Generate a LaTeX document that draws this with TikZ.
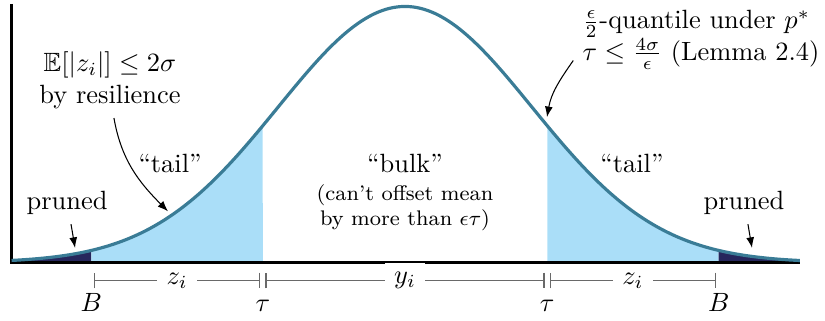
\documentclass[tikz,border=0pt]{standalone}
\usepackage{amsmath,amssymb}
\usetikzlibrary{arrows.meta,positioning}
\definecolor{curveteal}{RGB}{58,124,150}
\definecolor{tailblue}{RGB}{170,222,248}
\definecolor{prunednavy}{RGB}{38,38,92}
\definecolor{spangray}{RGB}{105,105,105}
\tikzset{
  density/.style={line width=1.2pt, draw=curveteal},
  axisline/.style={line width=1.1pt, draw=black},
  pointer/.style={-{Latex[length=4pt,width=3pt]}, thin, draw=black},
  span/.style={{Bar[width=6pt]}-{Bar[width=6pt]}, semithick, draw=spangray, shorten <=0.9pt, shorten >=0.9pt},
  spanlabel/.style={fill=white, inner sep=3.5pt},
  endlabel/.style={anchor=base},
  note/.style={align=center},
  smallnote/.style={align=center, font=\footnotesize}
}
\begin{document}
\begin{tikzpicture}[x=1.69cm, y=3.407cm, declare function={gauss(\t)=exp(-0.5*(\t)*(\t));}]
\useasboundingbox (-3.189,-0.2246) rectangle (3.307,1.0254);
% shaded regions under the density
\fill[prunednavy] (-3.098,0) -- plot[domain=-3.098:-2.47, samples=20] (\x,{gauss(\x)}) -- (-2.47,0) -- cycle;
\fill[tailblue] (-2.47,0) -- plot[domain=-2.47:-1.12, samples=40] (\x,{gauss(\x)}) -- (-1.12,0) -- cycle;
\fill[tailblue] (1.12,0) -- plot[domain=1.12:2.47, samples=40] (\x,{gauss(\x)}) -- (2.47,0) -- cycle;
\fill[prunednavy] (2.47,0) -- plot[domain=2.47:3.11, samples=20] (\x,{gauss(\x)}) -- (3.11,0) -- cycle;
% axes and curve
\draw[axisline] (-3.098,1.010) -- (-3.098,0) -- (3.11,0);
\draw[density] plot[domain=-3.098:3.11, samples=150, smooth] (\x,{gauss(\x)});
% spans below the axis
\coordinate (bl) at (-2.47,-0.07);
\coordinate (tl) at (-1.12,-0.07);
\coordinate (tr) at (1.12,-0.07);
\coordinate (br) at (2.47,-0.07);
\draw[span] (bl) -- node[spanlabel] {$z_i$} (tl);
\draw[span] (tl) -- node[spanlabel] {$y_i$} (tr);
\draw[span] (tr) -- node[spanlabel] {$z_i$} (br);
\node[endlabel] (Bl) at (-2.47,-0.193) {$B$};
\node[endlabel] (taul) at (-1.12,-0.193) {$\tau$};
\node[endlabel] (taur) at (1.12,-0.193) {$\tau$};
\node[endlabel] (Br) at (2.47,-0.193) {$B$};
% labels
\node[note] (resil) at (-2.323,0.712) {$\mathbb{E}[|z_i|] \le 2\sigma$\\by resilience};
\node[note] (taill) at (-1.85,0.388) {``tail''};
\node[note] (tailr) at (1.787,0.388) {``tail''};
\node[note] (prunl) at (-2.661,0.232) {pruned};
\node[note] (prunr) at (2.669,0.232) {pruned};
\node[note] (bulk) at (0,0.386) {``bulk''};
\node[smallnote] (bulknote) at (0,0.214) {(can't offset mean\\by more than $\epsilon\tau$)};
\node[note, align=left] (quant) at (2.331,0.869) {$\frac{\epsilon}{2}$-quantile under $p^*$\\$\tau \le \frac{4\sigma}{\epsilon}$ (Lemma 2.4)};
% pointers
\coordinate (resilend) at (-1.866,0.20);
\coordinate (quantend) at (1.118,0.568);
\coordinate (prunlend) at (-2.598,0.057);
\coordinate (prunrend) at (2.732,0.057);
\draw[pointer] ([xshift=1.5pt]resil.south) to[out=-80, in=135] (resilend);
\draw[pointer] ([yshift=7pt]quant.south west) to[out=-125, in=80] (quantend);
\draw[pointer] ([xshift=1.5pt]prunl.south) -- (prunlend);
\draw[pointer] ([xshift=1.5pt]prunr.south) -- (prunrend);
\end{tikzpicture}
\end{document}
